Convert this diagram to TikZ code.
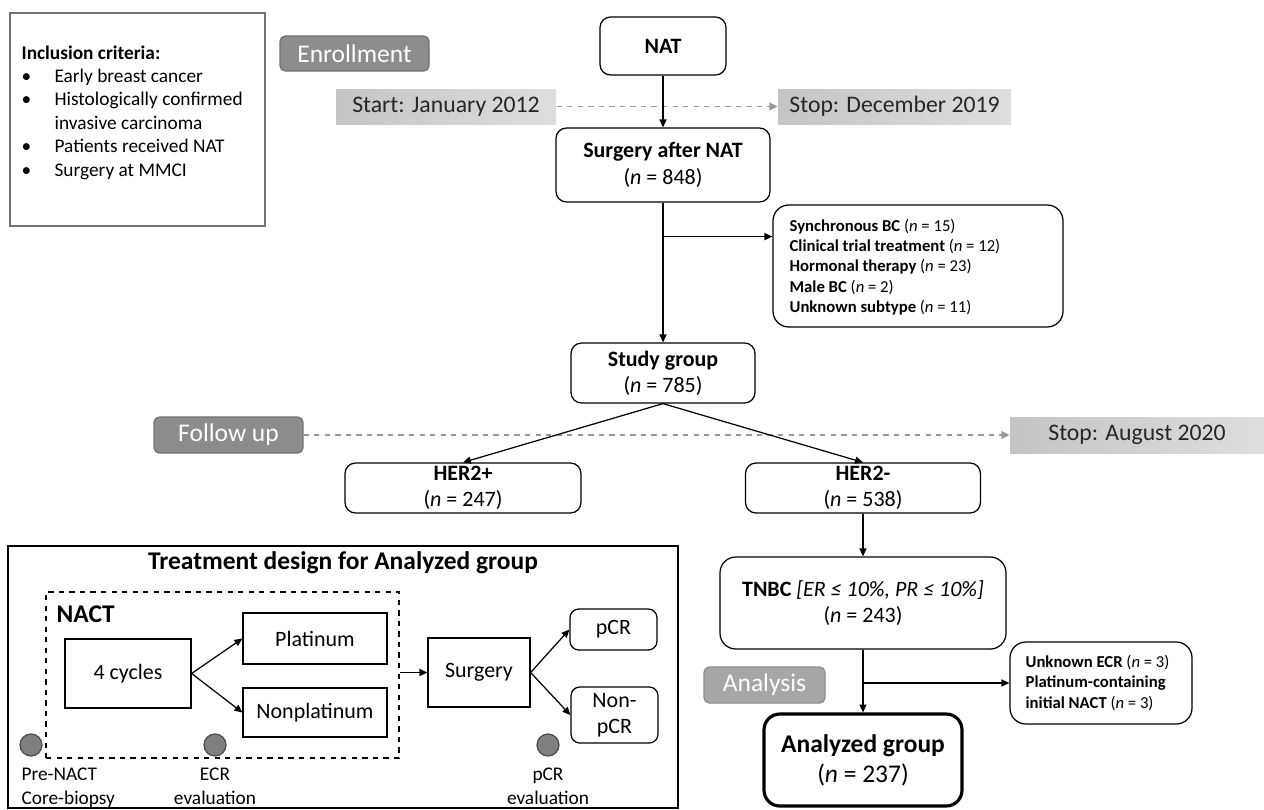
\documentclass[tikz,border=0pt]{standalone}
\usepackage{fontspec}
\setmainfont{Carlito}
\usetikzlibrary{arrows.meta,fit,positioning}

\definecolor{phasegray}{HTML}{8C8C8C}
\definecolor{phaseedge}{HTML}{717171}
\definecolor{dotgray}{HTML}{7F7F7F}

\newcommand\itm{\makebox[0.66cm][l]{\textbullet}}

\tikzset{
  sz/.style 2 args={minimum width=#1*0.02cm, minimum height=#2*0.02cm},
  plain/.style={draw, inner sep=0pt},
  box/.style={draw, rounded corners=6pt, inner sep=0pt, align=center, font=\fontsize{12.5}{15}\selectfont},
  exbox/.style={draw, rounded corners=9pt, inner sep=0pt},
  extext/.style={anchor=west, align=left, inner sep=0pt, font=\fontsize{9.5}{11.6}\selectfont},
  phase/.style={draw=phaseedge, fill=phasegray, rounded corners=3pt, text=white, inner sep=0pt, font=\fontsize{14.5}{16}\selectfont},
  timebox/.style={left color=black!23, right color=black!13, text=black!85, inner sep=0pt, font=\fontsize{13.5}{15}\selectfont},
  tbox/.style={draw, inner sep=0pt, align=center, font=\fontsize{12.5}{15}\selectfont},
  timeline/.style={dashed, draw=black!40, line width=0.8pt, -{Triangle[length=4.5pt,width=4.5pt]}},
}

\begin{document}
\begin{tikzpicture}[x=0.02cm, y=-0.02cm, line width=0.7pt, >={Triangle[length=4.5pt,width=4pt]}]
\useasboundingbox (0,0) rectangle (1264,809);

% inclusion criteria
\node[plain, draw=black!55, fit={(10,13) (265,226)}] (incl) {};
\node[anchor=north west, align=left, inner sep=0pt, font=\fontsize{11}{13.3}\selectfont] (incltext) at (21,45)
  {\textbf{Inclusion criteria:}\\
   \itm Early breast cancer\\
   \itm Histologically confirmed\\
   \makebox[0.66cm]{}invasive carcinoma\\
   \itm Patients received NAT\\
   \itm Surgery at MMCI};

% phases and time span
\node[phase, sz={149}{35}] (enrol) at (354.5,53.5) {Enrollment};
\node[phase, sz={149}{36}] (follow) at (228.5,435) {Follow up};
\node[phase, fill=black!35, draw=black!45, sz={121}{36}] (analysis) at (764.5,685) {Analysis};

\node[timebox, sz={220}{35}] (start) at (446,106.5) {Start: January 2012};
\node[timebox, sz={233}{35}] (stopdec) at (894.5,106.5) {Stop: December 2019};
\node[timebox, sz={254}{36}] (stopaug) at (1137,435) {Stop: August 2020};
\draw[timeline] (start) -- (stopdec);
\draw[timeline] (follow) -- (stopaug);

% flow
\node[box, sz={126}{58}] (nat) at (663,46) {\textbf{NAT}};
\node[box, sz={214}{74}] (surg) at (663,165) {\textbf{Surgery after NAT}\\(\textit{n} = 848)};
\node[exbox, fit={(773,205) (1063,327)}] (excl1) {};
\node[extext] (excl1txt) at (789,267)
  {\textbf{Synchronous BC} (\textit{n} = 15)\\
   \textbf{Clinical trial treatment} (\textit{n} = 12)\\
   \textbf{Hormonal therapy} (\textit{n} = 23)\\
   \textbf{Male BC} (\textit{n} = 2)\\
   \textbf{Unknown subtype} (\textit{n} = 11)};
\node[box, sz={184}{60}] (study) at (663,373) {\textbf{Study group}\\(\textit{n} = 785)};
\node[box, sz={236}{50}] (herpos) at (463,488) {\textbf{HER2+}\\(\textit{n} = 247)};
\node[box, sz={235}{50}] (herneg) at (863,488) {\textbf{HER2-}\\(\textit{n} = 538)};
\node[box, rounded corners=9pt, sz={286}{92}] (tnbc) at (863,603) {\textbf{TNBC} \textit{[ER ≤ 10\%, PR ≤ 10\%]}\\(\textit{n} = 243)};
\node[exbox, fit={(1010,642) (1192,724)}] (excl2) {};
\node[extext] (excl2txt) at (1025,683)
  {\textbf{Unknown ECR} (\textit{n} = 3)\\
   \textbf{Platinum-containing}\\
   \textbf{initial NACT} (\textit{n} = 3)};
\node[box, line width=1.8pt, rounded corners=9pt, font=\fontsize{14.5}{17}\selectfont, sz={198}{92}] (analyzed) at (863,760) {\textbf{Analyzed group}\\(\textit{n} = 237)};

\draw[->] (nat) -- (surg);
\draw[->] (surg) -- (study);
\path (surg.south) ++(0,34) coordinate (split1);
\draw[->] (split1) -- (split1 -| excl1.west);
\draw[->] (study.south) -- (herpos.north);
\draw[->] (study.south) -- (herneg.north);
\draw[->] (herneg) -- (tnbc);
\draw[->] (tnbc) -- (analyzed);
\draw[->] (tnbc.south |- excl2.west) -- (excl2.west);

% treatment design
\node[plain, fit={(8,546) (678,808)}] (design) {};
\node[font=\bfseries\fontsize{14.5}{17}\selectfont] (title) at (343,563) {Treatment design for Analyzed group};
\node[plain, dashed, fit={(46,592) (399,758)}] (nact) {};
\node[anchor=west, inner sep=0pt, font=\bfseries\fontsize{14.5}{17}\selectfont] (nactlbl) at (56,614) {NACT};
\node[tbox, sz={126}{69}] (cyc) at (128,673.5) {4 cycles};
\node[tbox, sz={144}{51}] (plat) at (315,638.5) {Platinum};
\node[tbox, sz={144}{49}] (nonplat) at (315,712.5) {Nonplatinum};
\node[tbox, sz={102}{69}] (surg2) at (479,672.5) {Surgery};
\node[tbox, rounded corners=5pt, sz={87}{41}] (pcr) at (613.5,629.5) {pCR};
\node[tbox, rounded corners=5pt, sz={87}{56}] (npcr) at (614.5,715) {Non-\\pCR};

\draw[->] (cyc.east) -- (plat.west);
\draw[->] (cyc.east) -- (nonplat.west);
\draw[->] (nact.east |- surg2.west) -- (surg2.west);
\draw[->] (surg2.east) -- (pcr.west);
\draw[->] (surg2.east) -- (npcr.west);

\filldraw[fill=dotgray, draw=black!70] (31,745) circle (0.22cm);
\filldraw[fill=dotgray, draw=black!70] (215,745) circle (0.22cm);
\filldraw[fill=dotgray, draw=black!70] (548,745) circle (0.22cm);
\node[anchor=north west, align=left, inner sep=0pt, font=\fontsize{11}{14}\selectfont] (prenact) at (21,767) {Pre-NACT\\Core-biopsy};
\node[anchor=north, align=center, inner sep=0pt, font=\fontsize{11}{14}\selectfont] (ecr) at (215,767) {ECR\\evaluation};
\node[anchor=north, align=center, inner sep=0pt, font=\fontsize{11}{14}\selectfont] (pcreval) at (548,767) {pCR\\evaluation};

\end{tikzpicture}
\end{document}
